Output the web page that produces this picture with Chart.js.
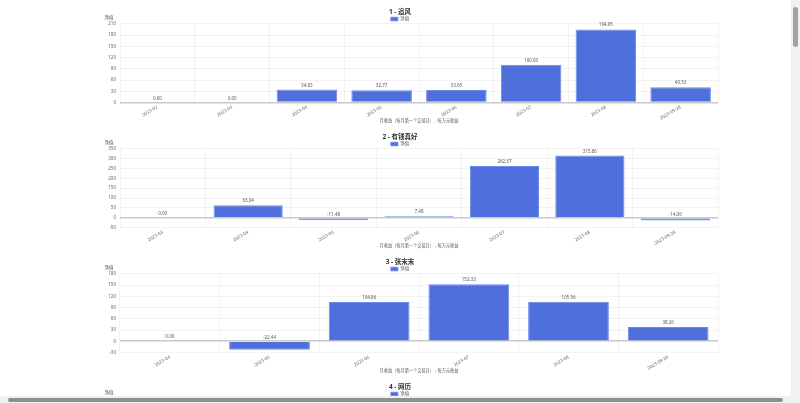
<!DOCTYPE html>
<html>
<head>
<meta charset="utf-8">
<script src="https://cdn.jsdelivr.net/npm/chart.js@4.4.0/dist/chart.umd.min.js"></script>
<style>
  body { margin: 0; background: #fff; }
  .box { position: relative; width: 800px; height: 125px; }
  .rest { height: 3300px; }
  /* the reference shot shows the browser scrollbars */
  .vbar { position: fixed; right: 0; top: 0; width: 9px; height: 403px; background: #f1f1f1; }
  .vbar div { position: absolute; left: 2px; top: 7px; width: 5px; height: 40px; background: #a3a3a3; border-radius: 3px; }
  .hbar { position: fixed; left: 0; bottom: 0; width: 791px; height: 7px; background: #f1f1f1; }
  .hbar div { position: absolute; left: 8px; top: 2px; width: 775px; height: 4px; background: #8e8e8e; border-radius: 2px; }
</style>
</head>
<body>
<div class="box"><canvas id="c1"></canvas></div>
<div class="box"><canvas id="c2"></canvas></div>
<div class="box"><canvas id="c3"></canvas></div>
<div class="box"><canvas id="c4"></canvas></div>
<div class="rest"></div>
<div class="vbar"><div></div></div>
<div class="hbar"><div></div></div>
<script>
const titles = ['1 - 追风', '2 - 有钱真好', '3 - 张宋宋', '4 - 网历'];

const months1 = ['2023-02', '2023-03', '2023-04', '2023-05', '2023-06', '2023-07', '2023-08', '2023-09-28'];
const net1 = [0, 0, 34.83, 32.77, 33.65, 100.93, 194.95, 40.53];

const months2 = ['2023-03', '2023-04', '2023-05', '2023-06', '2023-07', '2023-08', '2023-09-28'];
const net2 = [0, 63.04, -11.48, 7.48, 262.37, 315.86, -14.06];

const months3 = ['2023-04', '2023-05', '2023-06', '2023-07', '2023-08', '2023-09-28'];
const net3 = [0, -22.44, 104.86, 152.33, 105.56, 38.26];

// chart 4 is cut off below the fold, its bars are not visible
const months4 = [];
const net4 = [];

const yMin = [0, -50, -30, -30];
const yMax = [210, 350, 180, 180];
const yStep = [30, 50, 30, 30];

const seriesName = '净值';
const xTitle = '月收益（每月第一个交易日） - 每万元收益';

const FONT = '"Noto Sans", "Noto Sans CJK SC", sans-serif';
const BAR = '#4f6fdc';

// value above each bar (top of the bar rect, also for negatives)
const barLabels = {
  id: 'barLabels',
  afterDatasetsDraw(chart) {
    const { ctx } = chart;
    ctx.save();
    ctx.font = `4.5px ${FONT}`;
    ctx.fillStyle = '#555';
    ctx.textAlign = 'center';
    ctx.textBaseline = 'bottom';
    chart.data.datasets.forEach((ds, i) => {
      chart.getDatasetMeta(i).data.forEach((bar, j) => {
        const y = Math.min(bar.y, bar.base) - 2;
        ctx.fillText(ds.data[j].toFixed(2), bar.x, y);
      });
    });
    ctx.restore();
  },
};

// y axis name sits on top of the axis
const yName = {
  id: 'yName',
  afterDraw(chart) {
    const { ctx, chartArea } = chart;
    ctx.save();
    ctx.font = `4.5px ${FONT}`;
    ctx.fillStyle = '#555';
    ctx.textAlign = 'center';
    ctx.textBaseline = 'middle';
    ctx.fillText(seriesName, chartArea.left - 11, chartArea.top - 6);
    ctx.restore();
  },
};

function makeChart(id, idx, labels, values) {
  return new Chart(document.getElementById(id), {
    type: 'bar',
    data: {
      labels,
      datasets: [{
        label: seriesName,
        data: values,
        backgroundColor: BAR,
        borderColor: '#6b88ec',
        borderWidth: 1,
        barPercentage: 0.9,
        categoryPercentage: 0.9,
      }],
    },
    options: {
      responsive: true,
      maintainAspectRatio: false,
      animation: false,
      layout: { padding: { left: 82, right: 82, top: 0, bottom: 0 } },
      plugins: {
        title: {
          display: true,
          text: titles[idx],
          color: '#333',
          font: { family: FONT, size: 6.5, weight: 'bold' },
          padding: { top: 8, bottom: 0 },
        },
        legend: {
          maxHeight: 8,
          labels: {
            font: { family: FONT, size: 4.5 },
            color: '#555',
            boxWidth: 7,
            boxHeight: 3.5,
            padding: 1,
          },
        },
        tooltip: { enabled: false },
      },
      scales: {
        x: {
          grid: { color: 'rgba(0,0,0,0.07)', lineWidth: 0.7, drawTicks: false },
          border: { display: false },
          ticks: {
            font: { family: FONT, size: 4.5 },
            color: '#666',
            minRotation: 30,
            maxRotation: 30,
            padding: 2,
            autoSkip: false,
          },
          title: {
            display: true,
            text: xTitle,
            font: { family: FONT, size: 4.2 },
            color: '#555',
            padding: { top: -5, bottom: 2 },
          },
        },
        y: {
          min: yMin[idx],
          max: yMax[idx],
          afterFit(scale) { scale.width = 38; },
          grid: {
            color: (c) => (c.tick && c.tick.value === 0 ? '#c8c8c8' : 'rgba(0,0,0,0.07)'),
            lineWidth: (c) => (c.tick && c.tick.value === 0 ? 1.6 : 0.7),
            drawTicks: false,
          },
          border: { display: false },
          ticks: {
            stepSize: yStep[idx],
            autoSkip: false,
            font: { family: FONT, size: 4.5 },
            color: '#666',
            padding: 4,
          },
        },
      },
    },
    plugins: [barLabels, yName],
  });
}

makeChart('c1', 0, months1, net1);
makeChart('c2', 1, months2, net2);
makeChart('c3', 2, months3, net3);
makeChart('c4', 3, months4, net4);
</script>
</body>
</html>
